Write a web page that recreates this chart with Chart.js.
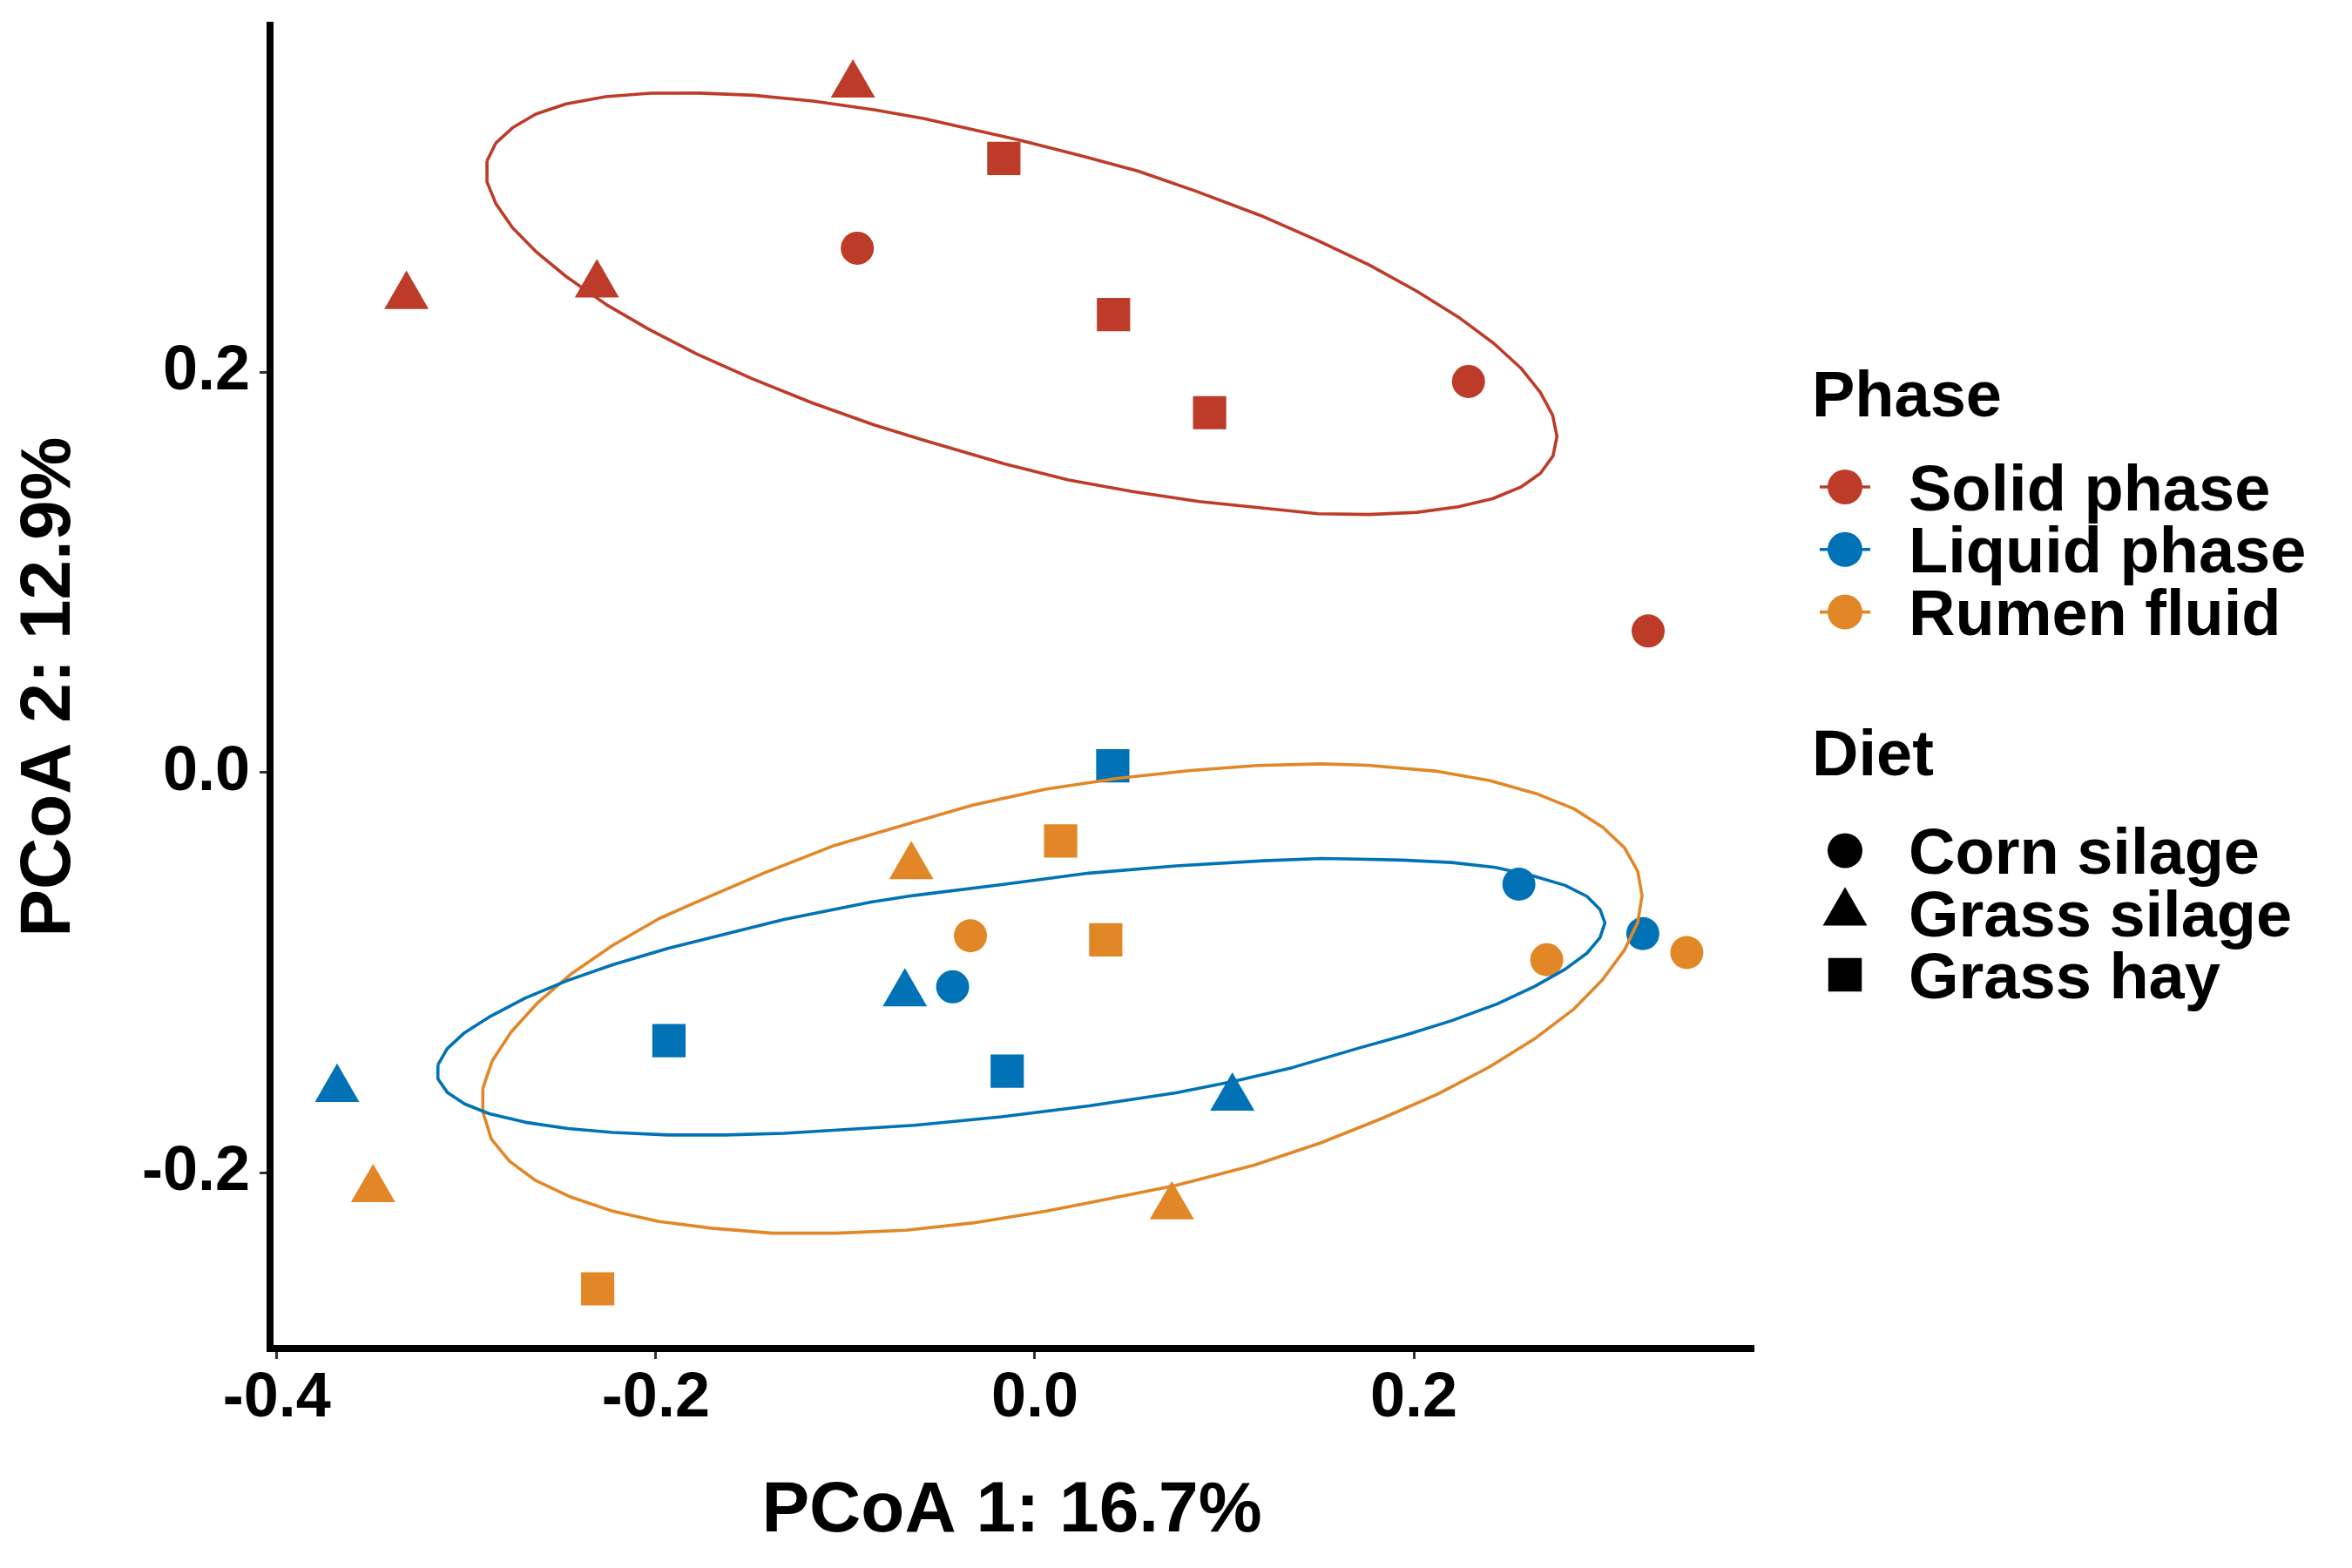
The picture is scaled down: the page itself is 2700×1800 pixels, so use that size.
<!DOCTYPE html>
<html>
<head>
<meta charset="utf-8">
<script src="https://cdn.jsdelivr.net/npm/chart.js@4.4.1/dist/chart.umd.min.js"></script>
<style>
html,body{margin:0;padding:0;background:#ffffff;}
canvas{display:block;}
</style>
</head>
<body>
<canvas id="c" width="2700" height="1800"></canvas>
<script>
// ---------------- DATA ----------------
const phases = ['Solid phase', 'Liquid phase', 'Rumen fluid'];
const diets = ['Corn silage', 'Grass silage', 'Grass hay'];
const xTicks = [-0.4, -0.2, 0.0, 0.2];
const yTicks = [-0.2, 0.0, 0.2];
const xTitle = 'PCoA 1: 16.7%';
const yTitle = 'PCoA 2: 12.9%';

// diet index: 0 = Corn silage, 1 = Grass silage, 2 = Grass hay
const solidX = [-0.0960, -0.3316, -0.2311, -0.0937, -0.0164, 0.0415, 0.0922, 0.2288, 0.3236];
const solidY = [0.3436, 0.2380, 0.2438, 0.2620, 0.3068, 0.2288, 0.1798, 0.1954, 0.0707];
const solidDiet = [1, 1, 1, 0, 2, 2, 2, 0, 0];

const liquidX = [0.0411, 0.2554, 0.3208, -0.0434, -0.0686, -0.1931, -0.0146, 0.1042, -0.3682];
const liquidY = [0.0033, -0.0558, -0.0805, -0.1071, -0.1105, -0.1340, -0.1492, -0.1626, -0.1582];
const liquidDiet = [2, 0, 0, 0, 1, 2, 2, 1, 1];

const rumenX = [0.0136, -0.0652, -0.0340, 0.0374, 0.2701, 0.3440, 0.0723, -0.3492, -0.2307];
const rumenY = [-0.0342, -0.0469, -0.0816, -0.0836, -0.0936, -0.0900, -0.2169, -0.2083, -0.2580];
const rumenDiet = [2, 1, 0, 2, 0, 0, 1, 1, 2];

// ellipse outlines
const solidEllipseX = [-0.2891,-0.2844,-0.2757,-0.2634,-0.2473,-0.2266,-0.2029,-0.1768,-0.1485,-0.1171,-0.0849,-0.0588,-0.0083,0.0239,0.0546,0.0852,0.1189,0.1495,0.1764,0.2017,0.2234,0.2422,0.2564,0.2667,0.2732,0.2755,0.2734,0.2667,0.2564,0.2415,0.2234,0.2017,0.1764,0.1495,0.1204,0.0867,0.0515,0.0178,-0.0160,-0.0588,-0.0849,-0.1178,-0.1493,-0.1784,-0.2036,-0.2258,-0.2473,-0.2634,-0.2757,-0.2844,-0.2891,-0.2891];
const solidEllipseY = [0.3056,0.3146,0.3221,0.3290,0.3341,0.3377,0.3394,0.3395,0.3384,0.3355,0.3312,0.3268,0.3160,0.3083,0.3005,0.2904,0.2784,0.2657,0.2536,0.2404,0.2276,0.2144,0.2021,0.1900,0.1785,0.1679,0.1582,0.1494,0.1426,0.1368,0.1328,0.1300,0.1289,0.1293,0.1321,0.1354,0.1404,0.1462,0.1542,0.1661,0.1737,0.1848,0.1968,0.2091,0.2214,0.2336,0.2478,0.2604,0.2723,0.2842,0.2951,0.3056];

const liquidEllipseX = [-0.3150,-0.3101,-0.3009,-0.2872,-0.2688,-0.2473,-0.2228,-0.1937,-0.1661,-0.1324,-0.0864,-0.0634,-0.0175,0.0285,0.0745,0.1204,0.1511,0.1710,0.1940,0.2200,0.2430,0.2629,0.2798,0.2913,0.2982,0.3008,0.2982,0.2913,0.2798,0.2637,0.2438,0.2200,0.1955,0.1710,0.1357,0.1051,0.0745,0.0285,-0.0175,-0.0634,-0.1324,-0.1630,-0.1937,-0.2228,-0.2465,-0.2688,-0.2879,-0.3009,-0.3101,-0.3150,-0.3150];
const liquidEllipseY = [-0.1461,-0.1380,-0.1300,-0.1218,-0.1127,-0.1042,-0.0961,-0.0879,-0.0814,-0.0734,-0.0647,-0.0614,-0.0560,-0.0503,-0.0467,-0.0441,-0.0430,-0.0433,-0.0438,-0.0450,-0.0474,-0.0517,-0.0564,-0.0619,-0.0684,-0.0751,-0.0825,-0.0903,-0.0983,-0.1069,-0.1157,-0.1240,-0.1312,-0.1377,-0.1475,-0.1543,-0.1601,-0.1666,-0.1720,-0.1763,-0.1803,-0.1811,-0.1811,-0.1799,-0.1779,-0.1748,-0.1705,-0.1656,-0.1598,-0.1531,-0.1461];

const rumenEllipseX = [-0.2913,-0.2864,-0.2764,-0.2626,-0.2450,-0.2228,-0.1983,-0.1784,-0.1431,-0.1068,-0.0634,-0.0328,0.0055,0.0438,0.0821,0.1174,0.1511,0.1756,0.2124,0.2399,0.2644,0.2844,0.2997,0.3112,0.3181,0.3204,0.3181,0.3112,0.2994,0.2844,0.2644,0.2399,0.2124,0.1833,0.1511,0.1158,0.0745,0.0285,0.0055,-0.0328,-0.0680,-0.1048,-0.1385,-0.1707,-0.1983,-0.2235,-0.2450,-0.2634,-0.2772,-0.2868,-0.2913,-0.2913];
const rumenEllipseY = [-0.1579,-0.1442,-0.1297,-0.1153,-0.1009,-0.0864,-0.0730,-0.0647,-0.0503,-0.0368,-0.0247,-0.0163,-0.0084,-0.0029,0.0010,0.0035,0.0043,0.0036,0.0006,-0.0040,-0.0105,-0.0181,-0.0274,-0.0377,-0.0493,-0.0616,-0.0749,-0.0886,-0.1037,-0.1182,-0.1326,-0.1471,-0.1608,-0.1728,-0.1850,-0.1962,-0.2063,-0.2150,-0.2193,-0.2251,-0.2287,-0.2302,-0.2302,-0.2277,-0.2244,-0.2190,-0.2121,-0.2039,-0.1943,-0.1832,-0.1695,-0.1579];

// ---------------- STYLE ----------------
const phaseColors = ['#BC3C29', '#0072B5', '#E18727'];
const dietStyles = ['circle', 'triangle', 'rect'];
const dietRadius = [19, 29.4, 27];
const FONT = '"Liberation Sans", Arial, Helvetica, sans-serif';

const pointSets = [
  {x: solidX, y: solidY, d: solidDiet},
  {x: liquidX, y: liquidY, d: liquidDiet},
  {x: rumenX, y: rumenY, d: rumenDiet}
];
const ellipseSets = [
  {x: solidEllipseX, y: solidEllipseY},
  {x: liquidEllipseX, y: liquidEllipseY},
  {x: rumenEllipseX, y: rumenEllipseY}
];

const datasets = [];
ellipseSets.forEach((e, p) => {
  datasets.push({
    label: phases[p] + ' ellipse',
    data: e.x.map((v, i) => ({x: v, y: e.y[i]})),
    showLine: true,
    borderColor: phaseColors[p],
    backgroundColor: phaseColors[p],
    borderWidth: 3.6,
    borderJoinStyle: 'round',
    pointRadius: 0,
    fill: false,
    tension: 0,
    order: 0
  });
});
pointSets.forEach((s, p) => {
  diets.forEach((dn, d) => {
    const pts = [];
    s.x.forEach((v, i) => { if (s.d[i] === d) pts.push({x: v, y: s.y[i]}); });
    datasets.push({
      label: phases[p] + ' / ' + dn,
      data: pts,
      showLine: false,
      pointStyle: dietStyles[d],
      pointRadius: dietRadius[d],
      pointBackgroundColor: phaseColors[p],
      backgroundColor: phaseColors[p],
      pointBorderWidth: 0,
      borderWidth: 0,
      order: 1
    });
  });
});

// chart area in pixels: left 310, right 2013, top 23, bottom 1548
const xMin = -0.40358, xMax = 0.37922;
const yMin = -0.28782, yMax = 0.37321;

const legendPlugin = {
  id: 'customLegend',
  afterDraw(chart) {
    const ctx = chart.ctx;
    ctx.save();
    ctx.fillStyle = '#000';
    ctx.textBaseline = 'alphabetic';
    ctx.textAlign = 'left';
    ctx.font = 'bold 74px ' + FONT;
    ctx.fillText('Phase', 2080, 477.6);
    const keyX = 2118;
    phases.forEach((ph, i) => {
      const cy = 559 + 71.8 * i;
      ctx.strokeStyle = phaseColors[i];
      ctx.lineWidth = 3.6;
      ctx.beginPath();
      ctx.moveTo(keyX - 29, cy);
      ctx.lineTo(keyX + 29, cy);
      ctx.stroke();
      ctx.fillStyle = phaseColors[i];
      ctx.beginPath();
      ctx.arc(keyX, cy, 20, 0, Math.PI * 2);
      ctx.fill();
      ctx.fillStyle = '#000';
      ctx.fillText(ph, 2191, 585.5 + 71.8 * i);
    });
    ctx.fillText('Diet', 2080, 889.7);
    diets.forEach((dn, i) => {
      const cy = 976.5 + 71.2 * i;
      ctx.fillStyle = '#000';
      Chart.helpers.drawPoint(ctx, {pointStyle: dietStyles[i], radius: i === 0 ? 20 : (i === 1 ? 29.4 : 27.2), borderWidth: 0, rotation: 0}, keyX, cy);
      ctx.fillStyle = '#000';
      ctx.fillText(dn, 2191, 1003.3 + 71.2 * i);
    });
    ctx.restore();
  }
};

const bgPlugin = {
  id: 'bg',
  beforeDraw(chart) {
    const ctx = chart.ctx;
    ctx.save();
    ctx.fillStyle = '#ffffff';
    ctx.fillRect(0, 0, chart.width, chart.height);
    ctx.restore();
  }
};

new Chart(document.getElementById('c'), {
  type: 'scatter',
  data: {datasets},
  plugins: [bgPlugin, legendPlugin],
  options: {
    responsive: false,
    animation: false,
    events: [],
    devicePixelRatio: 1,
    layout: {padding: {left: 0, top: 23, right: 687, bottom: 0}},
    plugins: {legend: {display: false}, tooltip: {enabled: false}},
    scales: {
      x: {
        type: 'linear',
        min: xMin, max: xMax,
        afterBuildTicks: s => { s.ticks = xTicks.map(v => ({value: v})); },
        afterFit: s => { s.height = 252; s.paddingLeft = 0; s.paddingRight = 0; s.paddingTop = 0; s.paddingBottom = 0; },
        border: {display: true, color: '#000000', width: 8},
        grid: {display: true, drawOnChartArea: false, drawTicks: true, tickLength: 12, tickWidth: 3, tickColor: '#333333'},
        ticks: {color: '#000', padding: 3, maxRotation: 0, autoSkip: false,
          font: {family: FONT, size: 72, weight: 'bold'},
          callback: v => Number(v).toFixed(1)},
        title: {display: true, text: xTitle, color: '#000',
          font: {family: FONT, size: 82, weight: 'bold'}, padding: {top: 0, bottom: 15}}
      },
      y: {
        type: 'linear',
        min: yMin, max: yMax,
        afterBuildTicks: s => { s.ticks = yTicks.map(v => ({value: v})); },
        afterFit: s => { s.width = 310; s.paddingLeft = 0; s.paddingRight = 0; s.paddingTop = 0; s.paddingBottom = 0; },
        border: {display: true, color: '#000000', width: 8},
        grid: {display: true, drawOnChartArea: false, drawTicks: true, tickLength: 12, tickWidth: 3, tickColor: '#333333'},
        ticks: {color: '#000', padding: 11, autoSkip: false,
          font: {family: FONT, size: 72, weight: 'bold'},
          callback: v => Number(v).toFixed(1)},
        title: {display: true, text: yTitle, color: '#000',
          font: {family: FONT, size: 82, weight: 'bold'}, padding: {top: 8, bottom: 0}}
      }
    }
  }
});
</script>
</body>
</html>
